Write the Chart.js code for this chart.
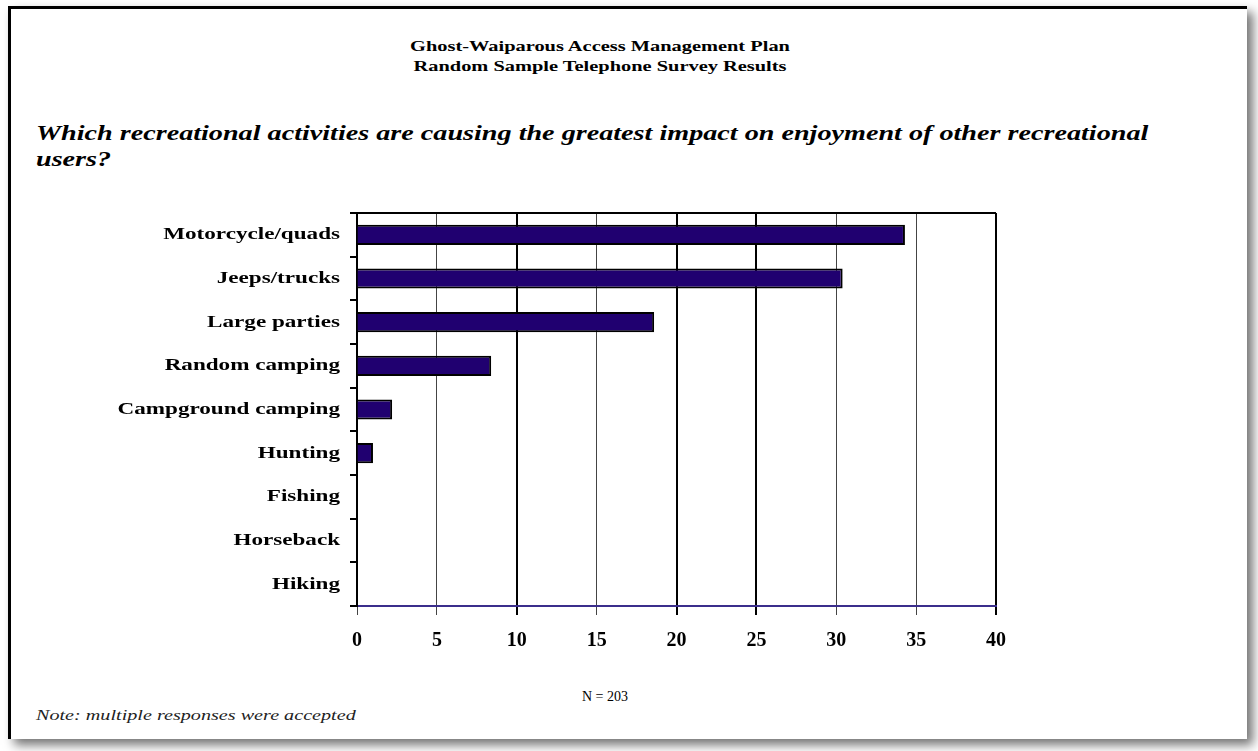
<!DOCTYPE html>
<html>
<head>
<meta charset="utf-8">
<script src="https://cdn.jsdelivr.net/npm/chart.js@4"></script>
<style>
  body { margin: 0; background: #fff; width: 1258px; height: 751px; overflow: hidden; position: relative; font-family: "Liberation Serif", serif; }
  #frame { position: absolute; left: 8px; top: 6px; width: 1236px; height: 730px; border-left: 3px solid #000; border-top: 3px solid #000; box-shadow: 6px 6px 10px rgba(0,0,0,0.55); background: #fff; }
  .txt { position: absolute; white-space: nowrap; color: #000; }
  #head { left: 0; width: 1200px; top: 36px; text-align: center; font-weight: bold; font-size: 15px; line-height: 20px; transform: scaleX(1.36); transform-origin: 600px 0; }
  #question { left: 36px; top: 120px; font-weight: bold; font-style: italic; font-size: 22px; line-height: 26px; transform: scaleX(1.28); transform-origin: 0 0; }
  #n { left: 0; width: 1210px; top: 689px; text-align: center; font-size: 14px; }
  #note { left: 36px; top: 706px; font-style: italic; font-size: 15.5px; color: #222; transform: scaleX(1.3); transform-origin: 0 0; }
  #chart { position: absolute; left: 0; top: 0; }
</style>
</head>
<body>
<div id="frame"></div>
<div class="txt" id="head">Ghost-Waiparous Access Management Plan<br>Random Sample Telephone Survey Results</div>
<div class="txt" id="question">Which recreational activities are causing the greatest impact on enjoyment of other recreational<br>users?</div>
<div class="txt" id="n">N = 203</div>
<div class="txt" id="note">Note: multiple responses were accepted</div>
<canvas id="chart" width="1258" height="751"></canvas>
<script>
const activities = [
  "Motorcycle/quads",
  "Jeeps/trucks",
  "Large parties",
  "Random camping",
  "Campground camping",
  "Hunting",
  "Fishing",
  "Horseback",
  "Hiking",
];
const percentImpact = [34.3, 30.4, 18.6, 8.4, 2.2, 1.0, 0, 0, 0];
const xTicks = [0, 5, 10, 15, 20, 25, 30, 35, 40];

// category axis whose labels come out wide, like the scanned original
class WideCategory extends Chart.CategoryScale {
  drawLabels(chartArea) {
    const ctx = this.ctx;
    const xr = this.right - this.options.grid.tickLength - this.options.ticks.padding;
    ctx.save();
    ctx.translate(xr, 0);
    ctx.scale(1.36, 1);
    ctx.translate(-xr, 0);
    super.drawLabels(chartArea);
    ctx.restore();
  }
}
WideCategory.id = "wideCategory";
WideCategory.defaults = Chart.CategoryScale.defaults;
Chart.register(WideCategory);

// line along the top of the plot area
const plotFrame = {
  id: "plotFrame",
  afterDraw(chart) {
    const { ctx, chartArea } = chart;
    ctx.save();
    ctx.strokeStyle = "#000";
    ctx.lineWidth = 2;
    ctx.beginPath();
    ctx.moveTo(chartArea.left, chartArea.top);
    ctx.lineTo(chartArea.right, chartArea.top);
    ctx.stroke();
    ctx.restore();
  },
};

const chart = new Chart(document.getElementById("chart"), {
  type: "bar",
  data: {
    labels: activities,
    datasets: [
      {
        data: percentImpact,
        backgroundColor: "#200070",
        borderColor: "#000",
        borderWidth: 2,
        barPercentage: 0.46,
        categoryPercentage: 1,
      },
    ],
  },
  plugins: [plotFrame],
  options: {
    indexAxis: "y",
    responsive: false,
    animation: false,
    layout: { padding: { left: 0, top: 213, right: 262, bottom: 0 } },
    plugins: { legend: { display: false }, tooltip: { enabled: false } },
    scales: {
      x: {
        min: 0,
        max: 40,
        afterBuildTicks: (scale) => {
          scale.ticks = xTicks.map((v) => ({ value: v }));
        },
        afterFit: (scale) => {
          scale.height = 751 - 606;
        },
        border: { color: "#3b2e8c", width: 2 },
        grid: {
          color: (c) => ([10, 20, 25, 40].includes(c.tick && c.tick.value) ? "#000" : "#444"),
          lineWidth: (c) => ([10, 20, 25, 40].includes(c.tick && c.tick.value) ? 2 : 1),
          tickLength: 9,
        },
        ticks: {
          color: "#000",
          padding: 14,
          font: { family: "Liberation Serif", size: 20, weight: "bold" },
        },
      },
      y: {
        type: "wideCategory",
        afterFit: (scale) => {
          scale.width = 357;
        },
        border: { color: "#000", width: 2 },
        grid: {
          offset: true,
          drawOnChartArea: false,
          color: "#000",
          lineWidth: 2,
          tickLength: 7,
        },
        ticks: {
          color: "#000",
          padding: 10,
          font: { family: "Liberation Serif", size: 17, weight: "bold" },
        },
      },
    },
  },
});
</script>
</body>
</html>
